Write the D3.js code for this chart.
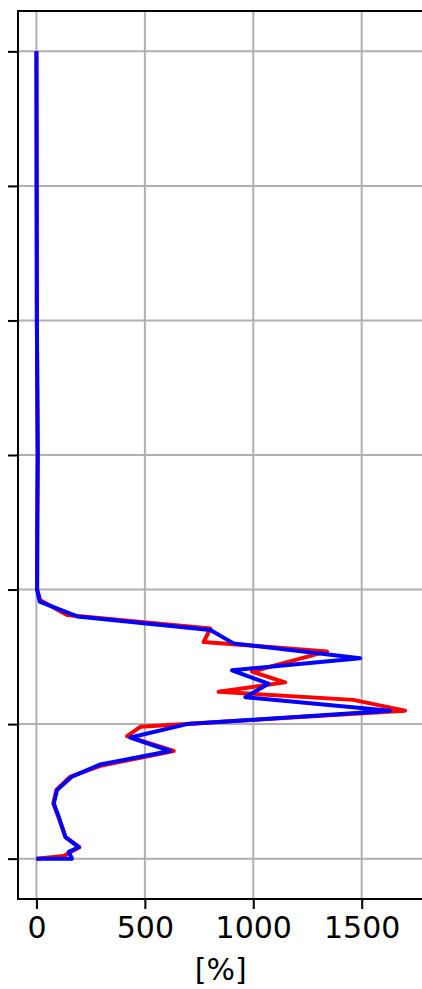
<!DOCTYPE html>
<html>
<head>
<meta charset="utf-8">
<script src="https://cdn.jsdelivr.net/npm/d3@7"></script>
<style>
  html, body { margin: 0; padding: 0; background: #fff; }
  svg { display: block; }
</style>
</head>
<body>
<svg id="chart" width="422" height="989"></svg>
<script>
// Heights (levels, bottom = 0) and values in [%]
const redHeights = [0, 0.02, 0.085, 0.16, 0.31, 0.41, 0.51, 0.61, 0.69, 0.80, 0.91, 0.98, 1.10, 1.18, 1.24, 1.31, 1.39, 1.54, 1.61, 1.71, 1.81, 1.92, 2.0, 2.5, 3.0, 3.5, 4.0, 5.0, 6.0];
const redValues  = [0, 126, 198, 134, 101, 78, 92, 157, 295, 633, 418, 479, 1700, 1461, 840, 1147, 994, 1340, 771, 802, 141, 18, 3, 4, 6, 4, 2, 1, 0];

const blueHeights = [0, 0, 0.05, 0.085, 0.16, 0.31, 0.41, 0.51, 0.61, 0.70, 0.80, 0.90, 1.0, 1.10, 1.20, 1.30, 1.40, 1.49, 1.60, 1.70, 1.80, 1.91, 2.0, 2.5, 3.0, 3.5, 4.0, 5.0, 6.0];
const blueValues  = [0, 164, 149, 195, 134, 103, 80, 95, 164, 295, 617, 433, 694, 1631, 963, 1070, 902, 1493, 909, 802, 188, 15, 3, 4, 6, 4, 2, 1, 0];

const xTicks = [0, 500, 1000, 1500];
const xTickLabels = ["0", "500", "1000", "1500"];
const yTicks = [0, 1, 2, 3, 4, 5, 6];
const xLabel = "[%]";

const svg = d3.select("#chart");
const pLeft = 18, pRight = 423.5, pTop = 11, pBottom = 899;

const x = d3.scaleLinear().domain([-85, 1785]).range([pLeft, pRight]);
const y = d3.scaleLinear().domain([-0.3, 6.3]).range([pBottom, pTop]);

const font = "'DejaVu Sans', sans-serif";

// Grid
const grid = svg.append("g");
grid.selectAll("line.vx").data(xTicks).enter().append("line")
  .attr("x1", d => x(d)).attr("x2", d => x(d))
  .attr("y1", pTop).attr("y2", pBottom)
  .attr("stroke", "#b0b0b0").attr("stroke-width", 2);
grid.selectAll("line.hy").data(yTicks).enter().append("line")
  .attr("x1", pLeft).attr("x2", pRight)
  .attr("y1", d => y(d)).attr("y2", d => y(d))
  .attr("stroke", "#b0b0b0").attr("stroke-width", 2);

// Lines
const line = (hs, vs) => d3.line().x((d, i) => x(vs[i])).y((d, i) => y(hs[i]))(hs);
svg.append("path").attr("d", line(redHeights, redValues))
  .attr("fill", "none").attr("stroke", "#ff0000").attr("stroke-width", 4)
  .attr("stroke-linejoin", "round");
svg.append("path").attr("d", line(blueHeights, blueValues))
  .attr("fill", "none").attr("stroke", "#0000ff").attr("stroke-width", 4)
  .attr("stroke-linejoin", "round");

// Axes
const xAxis = d3.axisBottom(x).tickValues(xTicks).tickFormat((d, i) => xTickLabels[i])
  .tickSize(10).tickPadding(8);
const gx = svg.append("g").attr("transform", `translate(0,${pBottom})`).call(xAxis);
gx.select(".domain").remove();
gx.selectAll(".tick line").attr("stroke", "#000").attr("stroke-width", 2);
gx.selectAll(".tick text").attr("font-family", font).attr("font-size", 30).attr("fill", "#000");

const yAxis = d3.axisLeft(y).tickValues(yTicks).tickFormat("").tickSize(10);
const gy = svg.append("g").attr("transform", `translate(${pLeft},0)`).call(yAxis);
gy.select(".domain").remove();
gy.selectAll(".tick line").attr("stroke", "#000").attr("stroke-width", 2);

// Spines (left, top, bottom; right lies outside the picture)
svg.append("line").attr("x1", pLeft).attr("x2", pLeft).attr("y1", pTop).attr("y2", pBottom)
  .attr("stroke", "#000").attr("stroke-width", 2).attr("stroke-linecap", "square");
svg.append("line").attr("x1", pLeft).attr("x2", 430).attr("y1", pTop).attr("y2", pTop)
  .attr("stroke", "#000").attr("stroke-width", 2).attr("stroke-linecap", "square");
svg.append("line").attr("x1", pLeft).attr("x2", 430).attr("y1", pBottom).attr("y2", pBottom)
  .attr("stroke", "#000").attr("stroke-width", 2).attr("stroke-linecap", "square");

// X label
svg.append("text").attr("x", (pLeft + pRight) / 2).attr("y", 980)
  .attr("text-anchor", "middle").attr("font-family", font).attr("font-size", 30)
  .attr("fill", "#000").text(xLabel);
</script>
</body>
</html>
